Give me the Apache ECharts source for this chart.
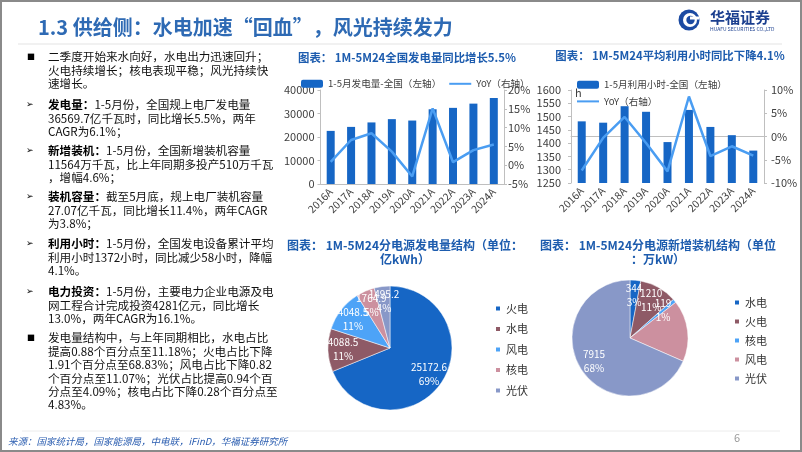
<!DOCTYPE html>
<html><head><meta charset="utf-8">
<script src="https://cdn.jsdelivr.net/npm/echarts@6/dist/echarts.min.js"></script>
<style>html,body{margin:0;padding:0;background:#fff}#c{width:802px;height:452px}</style>
</head><body><div id="c"></div>
<script>
// ---------- data ----------
const years = ['2016A','2017A','2018A','2019A','2020A','2021A','2022A','2023A','2024A'];
const genValues = [22600,24300,26200,27600,27000,31800,32400,34200,36570];
const genYoY = [0.9,6.7,8.5,3.6,-3.0,15.1,0.8,4.0,5.5];
const hourValues = [1482,1477,1539,1518,1404,1525,1461,1430,1372];
const hourYoY = [-7.3,-0.3,4.2,-1.4,-7.5,8.6,-4.2,-2.1,-4.1];
const genMixNames = ['火电','水电','风电','核电','光伏'];
const genMixValues = [25172.6,4088.5,4048.5,1764.9,1495.2];
const capNames = ['水电','火电','核电','风电','光伏'];
const capValues = [344,1210,119,1976,7915];
const capHiddenLabels = ['风电'];
const genAxis = {min:0,max:40000,interval:10000};
const genYoYAxis = {min:-5,max:20,interval:5};
const hourAxis = {min:1250,max:1600,interval:50};
const hourYoYAxis = {min:-10,max:10,interval:5};
const legendGen = ['1-5月发电量-全国（左轴）','YoY（右轴）'];
const legendHour = ['1-5月利用小时-全国（左轴）','YoY（右轴）'];

const headerTitle = '1.3 供给侧：水电加速“回血”，风光持续发力';
const chartTitles = [
  ['图表： 1M-5M24全国发电量同比增长5.5%'],
  ['图表： 1M-5M24平均利用小时同比下降4.1%'],
  ['图表： 1M-5M24分电源发电量结构（单位：','亿kWh）'],
  ['图表： 1M-5M24分电源新增装机结构（单位','：万kW）']
];
const bodyParas = [
 {mark:'■', lines:['二季度开始来水向好，水电出力迅速回升；','火电持续增长；核电表现平稳；风光持续快','速增长。']},
 {mark:'➢', head:'发电量：', lines:['1-5月份，全国规上电厂发电量','36569.7亿千瓦时，同比增长5.5%，两年','CAGR为6.1%；']},
 {mark:'➢', head:'新增装机：', lines:['1-5月份，全国新增装机容量','11564万千瓦，比上年同期多投产510万千瓦','，增幅4.6%；']},
 {mark:'➢', head:'装机容量：', lines:['截至5月底，规上电厂装机容量','27.07亿千瓦，同比增长11.4%，两年CAGR','为3.8%；']},
 {mark:'➢', head:'利用小时：', lines:['1-5月份，全国发电设备累计平均','利用小时1372小时，同比减少58小时，降幅','4.1%。']},
 {mark:'➢', head:'电力投资：', lines:['1-5月份，主要电力企业电源及电','网工程合计完成投资4281亿元，同比增长','13.0%，两年CAGR为16.1%。']},
 {mark:'■', lines:['发电量结构中，与上年同期相比，水电占比','提高0.88个百分点至11.18%；火电占比下降','1.91个百分点至68.83%；风电占比下降0.82','个百分点至11.07%；光伏占比提高0.94个百','分点至4.09%；核电占比下降0.28个百分点至','4.83%。']}
];
const sourceText = '来源：国家统计局，国家能源局，中电联，iFinD，华福证券研究所';
const pageNo = '6';

// ---------- style ----------
const FF = '"Noto Sans CJK SC","Noto Sans",sans-serif';
const BAR = '#1666c5', LINE = '#4a9df2', AX = '#bfbfbf', LBL = '#404040';
const mixColors = ['#1666c5','#8e5a66','#4da3f7','#cc909f','#8898c8'];
const TITLE_C = '#1d5cae';

function t(x,y,text,font,fill,align,extra){
  return {type:'text', x:x, y:y, silent:true, z:10,
    style:Object.assign({text:text, font:font, fill:fill||'#000', align:align||'left', verticalAlign:'middle'}, extra||{})};
}
const graphics = [];
graphics.push({type:'rect', shape:{x:1,y:1,width:800,height:450}, style:{fill:'none',stroke:'#8a8a8a',lineWidth:2}, silent:true});
graphics.push(t(38,27,headerTitle,'bold 20px '+FF,'#2e6ab4'));
graphics.push({type:'line', shape:{x1:18,y1:44,x2:782,y2:44}, style:{stroke:'#e3e3e3',lineWidth:1}, silent:true});
// logo
graphics.push({type:'circle', shape:{cx:689,cy:20,r:10.5}, style:{fill:'#1b4aa2'}, silent:true});
graphics.push({type:'circle', shape:{cx:690,cy:20,r:7}, style:{fill:'#fff'}, silent:true});
graphics.push({type:'circle', shape:{cx:690.5,cy:20,r:4.2}, style:{fill:'#1b4aa2'}, silent:true});
graphics.push({type:'rect', shape:{x:690,y:16.5,width:9,height:3}, style:{fill:'#fff'}, silent:true});
graphics.push(t(710,17,'华福证券','bold 15px '+FF,'#1b3f8f'));
graphics.push(t(710,29,'HUAFU SECURITIES CO.,LTD','5px '+FF,'#1b3f8f'));
// body text
const paraTops = [57,105,151,197,244,292,338];
const LS = 13.4, BF = '11.6px '+FF;
bodyParas.forEach(function(p,i){
  const y0 = paraTops[i];
  if (p.mark === '■') graphics.push(t(27,y0,'■','8px '+FF,'#000'));
  else graphics.push(t(26,y0,'➢','9px "DejaVu Sans",'+FF,'#000'));
  p.lines.forEach(function(line,j){
    if (j===0 && p.head) {
      graphics.push(t(48,y0,'{b|'+p.head+'}'+line,BF,'#111','left',{rich:{b:{font:'bold '+BF, fill:'#000'}}}));
    } else {
      graphics.push(t(48,y0+j*LS,line,BF,'#111'));
    }
  });
});
// footer
graphics.push({type:'line', shape:{x1:22,y1:431,x2:780,y2:431}, style:{stroke:'#ececec',lineWidth:1}, silent:true});
graphics.push(t(8,441,sourceText,'italic 9.5px '+FF,'#2a5db0'));
graphics.push(t(737,438,pageNo,'11px '+FF,'#9a9a9a','center'));
// chart titles
const titlePos = [[407,58],[670,56],[405,245],[658,245]];
const titleFont = ['bold 11.4px ','bold 11.4px ','bold 12px ','bold 12px '];
chartTitles.forEach(function(lines,i){
  lines.forEach(function(s,j){
    graphics.push(t(titlePos[i][0], titlePos[i][1]+j*14, s, titleFont[i]+FF, TITLE_C, 'center'));
  });
});
graphics.push(t(575,93,'h','11px '+FF,LBL));

const axisLbl = {color:LBL, fontSize:11, fontFamily:FF};
function catAxis(gi){
  return {type:'category', gridIndex:gi, data:years,
    axisLine:{lineStyle:{color:AX}}, axisTick:{show:false},
    axisLabel:{rotate:45, interval:0, color:LBL, fontSize:10.5, fontFamily:FF, margin:6}};
}
function valAxis(gi,pos,ax,suffix,margin){
  return {type:'value', gridIndex:gi, position:pos, min:ax.min, max:ax.max, interval:ax.interval,
    axisLine:{show:true, lineStyle:{color:AX}}, axisTick:{show:true, length:3, lineStyle:{color:AX}},
    splitLine:{show:false},
    axisLabel:Object.assign({formatter:function(v){return String(v)+suffix;}, margin:margin}, axisLbl)};
}
function pieData(names, values, hidden){
  return names.map(function(n,i){
    const d = {name:n, value:values[i], itemStyle:{color:mixColors[i]}};
    if (hidden && hidden.indexOf(n) >= 0) d.label = {show:false};
    return d;
  });
}
function legendItems(names){
  return names.map(function(n,i){
    return i === 0 ? {name:n} : {name:n, itemStyle:{color:'rgba(0,0,0,0)', borderWidth:0, opacity:0}};
  });
}
const labelPie = {color:'#fff', fontSize:10, lineHeight:14, fontFamily:FF};
function labelSeries(center, radius, names, values, hidden){
  return {type:'pie', center:center, radius:[0,radius], startAngle:90, clockwise:true, silent:true,
    percentPrecision:0, avoidLabelOverlap:false, labelLayout:{hideOverlap:false},
    legendHoverLink:false, z:5,
    data:pieData(names,values,hidden).map(function(d){d.itemStyle={color:'rgba(0,0,0,0)'};return d;}),
    label:Object.assign({show:true, position:'inside', formatter:'{c}\n{d}%'}, labelPie),
    labelLine:{show:false}};
}

const option = {
  animation:false,
  textStyle:{fontFamily:FF},
  grid:[
    {left:320.5, right:298, top:90, bottom:268},
    {left:571, right:38, top:90, bottom:269}
  ],
  xAxis:[catAxis(0), catAxis(1)],
  yAxis:[
    valAxis(0,'left',genAxis,'',6),
    valAxis(0,'right',genYoYAxis,'%',4),
    valAxis(1,'left',hourAxis,'',10),
    valAxis(1,'right',hourYoYAxis,'%',7)
  ],
  legend:[
    {left:296, top:74, data:legendItems(legendGen), itemWidth:22, itemHeight:8, itemGap:7,
     textStyle:{fontSize:9.6, color:LBL, fontFamily:FF}},
    {left:571, top:75, data:legendItems(legendHour), itemWidth:22, itemHeight:8, itemGap:7,
     textStyle:{fontSize:9.6, color:LBL, fontFamily:FF}},
    {orient:'vertical', left:489, top:298, itemWidth:6, itemHeight:6, itemGap:9.5, icon:'rect',
     data:genMixNames.map(function(n,i){return {name:n, itemStyle:{color:mixColors[i]}};}),
     textStyle:{fontSize:11, color:'#333', fontFamily:FF}},
    {orient:'vertical', left:728, top:292, itemWidth:6, itemHeight:6, itemGap:8, icon:'rect',
     data:capNames.map(function(n,i){return {name:n, itemStyle:{color:mixColors[i]}};}),
     textStyle:{fontSize:11, color:'#333', fontFamily:FF}}
  ],
  series:[
    {name:legendGen[0], type:'bar', xAxisIndex:0, yAxisIndex:0, data:genValues, barWidth:8, itemStyle:{color:BAR}},
    {name:legendGen[1], type:'line', xAxisIndex:0, yAxisIndex:1, data:genYoY, symbol:'none', lineStyle:{color:LINE,width:2.5}, itemStyle:{color:LINE}},
    {name:legendHour[0], type:'bar', xAxisIndex:1, yAxisIndex:2, data:hourValues, barWidth:8, itemStyle:{color:BAR}},
    {name:legendHour[1], type:'line', xAxisIndex:1, yAxisIndex:3, data:hourYoY, symbol:'none', lineStyle:{color:LINE,width:2.5}, itemStyle:{color:LINE}},
    {type:'pie', center:[390,348], radius:[0,62], startAngle:90, clockwise:true, silent:true,
     data:pieData(genMixNames,genMixValues), label:{show:false}, labelLine:{show:false},
     itemStyle:{borderColor:'#fff', borderWidth:0.5}},
    {type:'pie', center:[630,338], radius:[0,58], startAngle:90, clockwise:true, silent:true,
     data:pieData(capNames,capValues), label:{show:false}, labelLine:{show:false},
     itemStyle:{borderColor:'#fff', borderWidth:0.5}},
    labelSeries([390,348], 88, genMixNames, genMixValues),
    labelSeries([630,338], 80, capNames, capValues, capHiddenLabels)
  ],
  graphic:graphics
};
const chart = echarts.init(document.getElementById('c'));
chart.setOption(option);
</script>
</body></html>
